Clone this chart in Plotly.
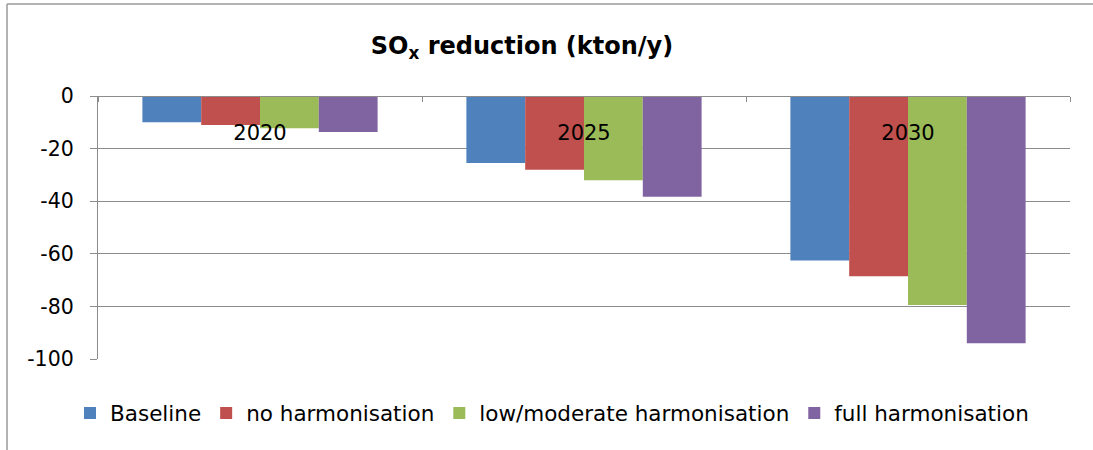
import plotly.graph_objects as go

years = ["2020", "2025", "2030"]
series_names = ["Baseline", "no harmonisation", "low/moderate harmonisation", "full harmonisation"]
baseline = [-10.0, -25.5, -62.5]
no_harm = [-11.0, -28.0, -68.5]
low_mod = [-12.3, -32.0, -79.5]
full_harm = [-13.7, -38.3, -94.0]
colors = ["#4F81BD", "#C0504D", "#9BBB59", "#8064A2"]
y_ticks = [0, -20, -40, -60, -80, -100]
y_tick_labels = ["0", "-20", "-40", "-60", "-80", "-100"]

W, H = 1093, 450
L, R, T, B = 98, 23, 96, 91
pw = W - L - R
ph = H - T - B

fig = go.Figure()
for name, vals, col in zip(series_names, [baseline, no_harm, low_mod, full_harm], colors):
    fig.add_trace(go.Bar(x=years, y=vals, name=name, marker=dict(color=col, line=dict(width=0))))

grid = "#8C8C8C"
font_family = "DejaVu Sans"

fig.update_layout(
    width=W, height=H,
    margin=dict(l=L, r=R, t=T, b=B),
    paper_bgcolor="white", plot_bgcolor="white",
    barmode="group", bargap=0.274, bargroupgap=0,
    font=dict(family=font_family, size=21, color="black"),
    title=dict(
        text="SO<sub>x</sub> reduction (kton/y)",
        font=dict(family=font_family, size=24, color="black", weight="bold"),
        xref="paper", x=(522 - L) / pw, xanchor="center",
        yref="container", y=1 - 46 / H, yanchor="middle",
    ),
    showlegend=True,
    legend=dict(
        orientation="h",
        x=(552 - L) / pw, xanchor="center",
        y=(H - B - 413) / ph, yanchor="middle",
        font=dict(family=font_family, size=21.5, color="black"),
        bgcolor="rgba(0,0,0,0)",
        traceorder="normal",
    ),
    xaxis=dict(
        type="category",
        anchor="free", position=1, side="bottom",
        showline=True, linecolor=grid, linewidth=1.3,
        ticks="outside", tickson="boundaries", ticklen=5, tickcolor=grid, tickwidth=1.3,
        showgrid=False,
        ticklabelstandoff=18,
        tickfont=dict(family=font_family, size=21, color="black"),
    ),
    yaxis=dict(
        range=[-100, 0], tickvals=y_ticks, ticktext=y_tick_labels,
        showline=True, linecolor=grid, linewidth=1.3,
        ticks="outside", ticklen=7, tickcolor=grid, tickwidth=1.3,
        ticklabelstandoff=12,
        showgrid=True, gridcolor=grid, gridwidth=1.3,
        zeroline=False,
        tickfont=dict(family=font_family, size=20.5, color="black"),
    ),
)

# outer chart border (left and top edges visible in the crop)
bx = (7 - L) / pw
by_top = (H - B - 4) / ph
by_bot = (H - B - H) / ph
fig.add_shape(type="line", xref="paper", yref="paper", x0=bx, x1=bx, y0=by_bot, y1=by_top,
              line=dict(color="#9A9A9A", width=1.5))
fig.add_shape(type="line", xref="paper", yref="paper", x0=bx, x1=(W - L) / pw, y0=by_top, y1=by_top,
              line=dict(color="#9A9A9A", width=1.5))

fig.write_html("out.html", config={"displayModeBar": False},
               post_script="document.body.style.margin='0px';")
